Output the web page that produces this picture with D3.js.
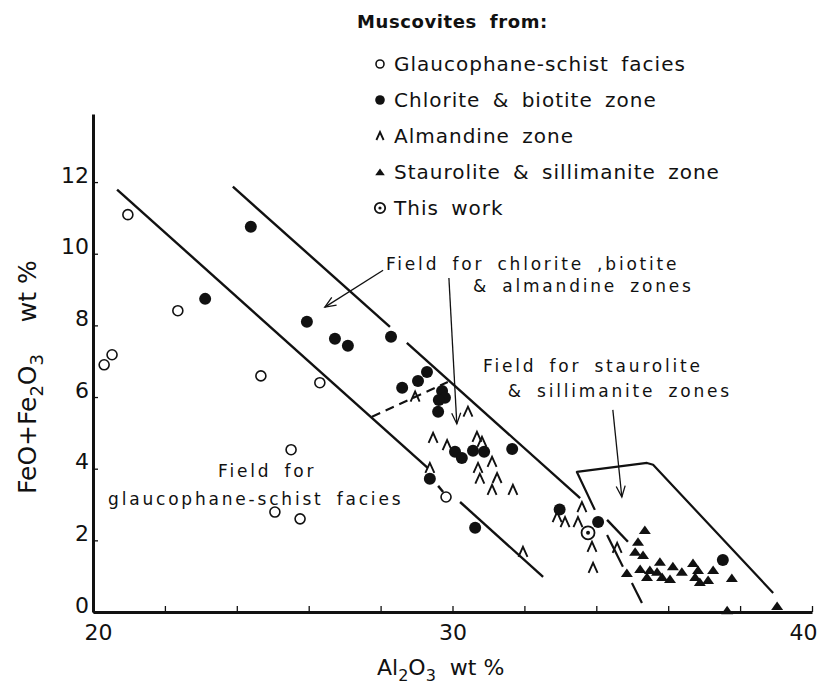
<!DOCTYPE html>
<html>
<head>
<meta charset="utf-8">
<script src="https://cdn.jsdelivr.net/npm/d3@7"></script>
<style>
body { margin: 0; background: #fff; }
text { font-family: "DejaVu Sans", sans-serif; fill: #111; }
.axis path, .axis line { stroke: #111; }
</style>
</head>
<body>
<div id="chart"></div>
<script>

// Al2O3 wt% , FeO+Fe2O3 wt%
var glaucophane = [[20.97,11.09],[20.31,6.90],[20.53,7.18],[22.36,8.41],[24.67,6.59],
  [26.31,6.40],[25.51,4.53],[25.06,2.79],[25.76,2.60],[29.82,3.21]];

var chloriteBiotite = [[24.39,10.75],[23.12,8.74],[25.95,8.10],[26.73,7.63],[27.09,7.43],
  [28.29,7.68],[28.60,6.26],[29.04,6.45],[29.29,6.70],[29.71,6.17],[29.79,5.98],[29.62,5.92],
  [29.60,5.59],[30.07,4.47],[30.26,4.30],[30.57,4.50],[30.88,4.47],[31.66,4.55],[29.37,3.72],
  [30.63,2.35],[32.98,2.86],[34.05,2.51],[37.52,1.45]];

var almandine = [[28.96,6.01],[29.46,4.86],[29.85,4.66],[30.43,5.59],[30.68,4.89],[30.82,4.75],
  [30.71,4.02],[30.76,3.72],[31.10,4.19],[31.24,3.74],[31.10,3.41],[31.68,3.41],[29.37,4.02],
  [31.96,1.68],[33.60,2.93],[32.91,2.65],[33.13,2.51],[33.49,2.51],[33.88,1.82],[33.91,1.23],
  [34.58,1.79]];

var staurolite = [[35.35,2.29],[35.16,1.96],[35.08,1.68],[35.30,1.59],[34.85,1.09],[35.22,1.20],
  [35.49,1.17],[35.41,0.98],[35.77,1.40],[35.69,1.12],[35.83,0.98],[36.05,0.92],[36.13,1.28],
  [36.38,1.12],[36.69,1.37],[36.83,1.17],[36.75,0.98],[36.88,0.84],[37.11,0.89],[37.25,1.17],
  [37.77,0.95],[39.03,0.17],[37.64,0.05]];

var thisWork = [[33.77,2.21]];

// field boundaries (broken where they pass the points)
var lineA = [[[20.67,11.79],[29.31,4.02]], [[29.60,3.52],[29.74,3.35]], [[30.21,3.07],[32.52,0.98]]];
var lineB = [[[23.89,11.87],[28.26,7.96]], [[28.73,7.51],[33.55,3.18]], [[34.30,2.57],[34.88,1.96]]];
var dashLink = [[27.76,5.45],[29.87,6.42]];
var stauroField = [[33.96,2.85],[33.46,3.91],[35.41,4.16],[35.58,4.11],[38.92,0.53]];
var stauroDashes = [[[34.30,2.15],[34.74,1.26]], [[34.99,0.81],[35.27,0.25]]];

var arrows = [[[28.07,9.54],[26.45,8.51]], [[29.90,9.32],[30.12,5.25]], [[34.46,5.64],[34.71,3.21]]];

var xTicks = [20,22,24,26,28,30,32,34,36,38,40];
var xLabels = [20,30,40];
var yTicks = [0,2,4,6,8,10,12];

var notes = [
  {t:"Field for chlorite ,biotite", x:28.15, y:9.545},
  {t:"& almandine zones", x:30.57, y:8.93},
  {t:"Field for staurolite", x:30.85, y:6.70},
  {t:"& sillimanite zones", x:31.54, y:6.00},
  {t:"Field for", x:23.48, y:3.77},
  {t:"glaucophane-schist facies", x:20.42, y:2.99}
];

var legendItems = [
  {k:"open", t:"Glaucophane-schist facies"},
  {k:"filled", t:"Chlorite & biotite zone"},
  {k:"caret", t:"Almandine zone"},
  {k:"tri", t:"Staurolite & sillimanite zone"},
  {k:"dot", t:"This work"}
];

var width = 819, height = 685;

var x = d3.scaleLinear().domain([20,40]).range([93,812]);
var y = d3.scaleLinear().domain([0,13.9]).range([612,114]);

var svg = d3.select("#chart").append("svg")
  .attr("width", width)
  .attr("height", height);

// axes
var xAxis = d3.axisBottom(x)
  .tickValues(xTicks)
  .tickSize(-6)
  .tickSizeOuter(0)
  .tickPadding(12)
  .tickFormat(function(d){ return xLabels.indexOf(d) >= 0 ? d : ""; });

var yAxis = d3.axisLeft(y)
  .tickValues(yTicks)
  .tickSize(-5)
  .tickSizeOuter(0)
  .tickFormat(d3.format("d"));

var gx = svg.append("g")
  .attr("class","axis")
  .attr("transform","translate(0," + y(0) + ")")
  .call(xAxis);
gx.select(".domain").attr("stroke-width", 3);
gx.selectAll(".tick line").attr("stroke-width", 1.3);
gx.selectAll("text")
  .attr("x", function(d){ return d == 20 ? 5 : (d == 40 ? -9 : 0); })
  .style("font-size","22px");

var gy = svg.append("g")
  .attr("class","axis")
  .attr("transform","translate(" + x(20) + ",0)")
  .call(yAxis);
gy.select(".domain").attr("stroke-width", 3);
gy.selectAll(".tick line").attr("stroke-width", 1.3);
gy.selectAll("text")
  .attr("x", -4)
  .attr("dy", "0")
  .style("font-size","22px");

// axis titles
var xt = svg.append("text")
  .attr("x", 377).attr("y", 675)
  .attr("xml:space","preserve")
  .style("font-size","22px");
xt.append("tspan").text("Al");
xt.append("tspan").attr("dy", 6).style("font-size","16px").text("2");
xt.append("tspan").attr("dy", -6).text("O");
xt.append("tspan").attr("dy", 6).style("font-size","16px").text("3");
xt.append("tspan").attr("dy", -6).text("  wt %");

var yt = svg.append("text")
  .attr("transform","translate(36,494) rotate(-90)")
  .attr("xml:space","preserve")
  .style("font-size","25px");
yt.append("tspan").text("FeO+Fe");
yt.append("tspan").attr("dy", 7).style("font-size","18px").text("2");
yt.append("tspan").attr("dy", -7).text("O");
yt.append("tspan").attr("dy", 7).style("font-size","18px").text("3");
yt.append("tspan").attr("dy", -7).text("    wt %");

// field lines
var line = d3.line().x(function(d){ return x(d[0]); }).y(function(d){ return y(d[1]); });

svg.append("g").selectAll("path")
  .data(lineA.concat(lineB))
  .enter().append("path")
  .attr("d", line)
  .attr("fill","none").attr("stroke","#111").attr("stroke-width", 2.4);

svg.append("path")
  .attr("d", line(dashLink))
  .attr("fill","none").attr("stroke","#111").attr("stroke-width", 2)
  .attr("stroke-dasharray","9,6");

svg.append("path")
  .attr("d", line(stauroField))
  .attr("fill","none").attr("stroke","#111").attr("stroke-width", 2.2)
  .attr("stroke-linejoin","round");

svg.append("g").selectAll("path")
  .data(stauroDashes)
  .enter().append("path")
  .attr("d", line)
  .attr("fill","none").attr("stroke","#111").attr("stroke-width", 2.2);

// arrows
svg.append("defs").append("marker")
  .attr("id","vhead")
  .attr("viewBox","-12 -6 14 12")
  .attr("refX", 0).attr("refY", 0)
  .attr("markerWidth", 14).attr("markerHeight", 12)
  .attr("markerUnits","userSpaceOnUse")
  .attr("orient","auto")
  .append("path")
  .attr("d","M-11,-4.5L0,0L-11,4.5")
  .attr("fill","none").attr("stroke","#111").attr("stroke-width", 1.3);

svg.append("g").selectAll("path")
  .data(arrows)
  .enter().append("path")
  .attr("d", line)
  .attr("fill","none").attr("stroke","#111").attr("stroke-width", 1.3)
  .attr("marker-end","url(#vhead)");

// annotations
svg.append("g").selectAll("text")
  .data(notes)
  .enter().append("text")
  .attr("x", function(d){ return x(d.x); })
  .attr("y", function(d){ return y(d.y); })
  .style("font-size","17px")
  .style("letter-spacing","2.8px")
  .style("word-spacing","5px")
  .text(function(d){ return d.t; });

// points
function drawSymbol(g, kind, s) {
  s = s || 1;
  if (kind == "open") {
    g.append("circle").attr("r", 5*s).attr("fill","#fff").attr("stroke","#111").attr("stroke-width",1.6);
  } else if (kind == "filled") {
    g.append("circle").attr("r", 6*s).attr("fill","#111");
  } else if (kind == "caret") {
    g.append("path").attr("d","M" + (-4.5*s) + "," + (5*s) + "L0," + (-5*s) + "L" + (4.5*s) + "," + (5*s))
      .attr("fill","none").attr("stroke","#111").attr("stroke-width",1.9);
  } else if (kind == "tri") {
    g.append("path").attr("d","M" + (-6*s) + "," + (4*s) + "L0," + (-4.5*s) + "L" + (6*s) + "," + (4*s) + "Z")
      .attr("fill","#111");
  } else if (kind == "dot") {
    g.append("circle").attr("r", 6.5*s).attr("fill","#fff").attr("stroke","#111").attr("stroke-width",1.8);
    g.append("circle").attr("r", 2*s).attr("fill","#111");
  }
}

var series = [
  {k:"caret", data:almandine},
  {k:"open", data:glaucophane},
  {k:"tri", data:staurolite},
  {k:"filled", data:chloriteBiotite},
  {k:"dot", data:thisWork}
];

series.forEach(function(s){
  svg.append("g").selectAll("g")
    .data(s.data)
    .enter().append("g")
    .attr("transform", function(d){ return "translate(" + x(d[0]) + "," + y(d[1]) + ")"; })
    .each(function(){ drawSymbol(d3.select(this), s.k); });
});

// legend
var legend = svg.append("g");
legend.append("text")
  .attr("x", 357).attr("y", 28)
  .style("font-size","18px").style("font-weight","bold")
  .style("letter-spacing","0.6px").style("word-spacing","6px")
  .text("Muscovites from:");

var rows = legend.selectAll("g.row")
  .data(legendItems)
  .enter().append("g")
  .attr("class","row")
  .attr("transform", function(d,i){ return "translate(380," + (64 + i*36) + ")"; });

rows.each(function(d){ drawSymbol(d3.select(this), d.k, 0.8); });

rows.append("text")
  .attr("x", 14).attr("y", 7)
  .style("font-size","20px")
  .style("letter-spacing","1px")
  .style("word-spacing","5px")
  .text(function(d){ return d.t; });

</script>
</body>
</html>
